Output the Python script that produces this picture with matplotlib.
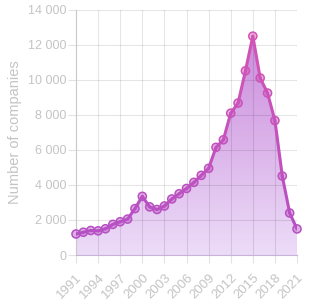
import numpy as np
import matplotlib.pyplot as plt
from matplotlib.colors import LinearSegmentedColormap
from matplotlib.collections import LineCollection
from matplotlib.patches import Polygon

years = list(range(1991, 2022))
companies = [1200, 1300, 1400, 1380, 1500, 1750, 1900, 2050, 2650, 3350,
             2750, 2600, 2800, 3200, 3500, 3800, 4150, 4550, 4950, 6150,
             6580, 8100, 8680, 10520, 12500, 10110, 9250, 7680, 4510, 2400,
             1490]
tick_years = list(range(1991, 2022, 3))
y_ticks = list(range(0, 14001, 2000))

plt.rcParams["font.family"] = ["Liberation Sans", "DejaVu Sans"]
label_color = "#c4c4c4"

fig = plt.figure(figsize=(3.12, 3.0), dpi=100)
ax = fig.add_axes([0.2436, 0.15, 0.7084, 0.817])

x = np.array(years, dtype=float)
y = np.array(companies, dtype=float)

# gradient fill under the curve
fill_cmap = LinearSegmentedColormap.from_list("fill", ["#ecdcf8", "#c274d4"])
img = ax.imshow(np.linspace(0, 1, 256).reshape(-1, 1), cmap=fill_cmap,
                aspect="auto", origin="lower",
                extent=[x[0], x[-1], 0, 14000], vmin=0, vmax=1.15, zorder=1)
poly = Polygon(np.column_stack([np.r_[x, x[-1], x[0]], np.r_[y, 0, 0]]),
               closed=True, facecolor="none", edgecolor="none")
ax.add_patch(poly)
img.set_clip_path(poly)

# grid above the fill, semi transparent
for t in tick_years:
    ax.axvline(t, color="black", alpha=0.1, linewidth=0.8, zorder=2)
for v in y_ticks:
    ax.axhline(v, color="black", alpha=0.1, linewidth=0.8, zorder=2)

# line with colour shifting toward pink at the peak
line_cmap = LinearSegmentedColormap.from_list("line", ["#b24fc6", "#d454b4"])
pts = np.column_stack([x, y]).reshape(-1, 1, 2)
segs = np.concatenate([pts[:-1], pts[1:]], axis=1)
mid = (y[:-1] + y[1:]) / 2
lc = LineCollection(segs, colors=line_cmap(mid / 12500), linewidth=2.2,
                    capstyle="round", joinstyle="round", zorder=3)
ax.add_collection(lc)

ax.scatter(x, y, s=34, facecolor=line_cmap(y / 12500, alpha=0.45),
           edgecolor=line_cmap(y / 12500), linewidth=1.1, zorder=4,
           clip_on=False)

ax.set_xlim(1991, 2021)
ax.set_ylim(0, 14000)
ax.set_xticks(tick_years)
ax.set_xticklabels([str(t) for t in tick_years], rotation=45, ha="right",
                   rotation_mode="anchor", color=label_color, fontsize=9.5)
ax.set_yticks(y_ticks)
ax.set_yticklabels([f"{v:,}".replace(",", " ") for v in y_ticks],
                   color=label_color, fontsize=9)
ax.set_ylabel("Number of companies", color=label_color, fontsize=10.5,
              labelpad=4)

for side in ("top", "right"):
    ax.spines[side].set_visible(False)
ax.spines["left"].set_color("#c8c8c8")
ax.spines["bottom"].set_color("#c9b2d9")
for side in ("left", "bottom"):
    ax.spines[side].set_linewidth(0.8)
ax.tick_params(axis="both", length=6, color="#e2e2e2", width=0.8)
ax.tick_params(axis="y", pad=1)
ax.tick_params(axis="x", pad=6)

fig.savefig("out.png", dpi=100)
